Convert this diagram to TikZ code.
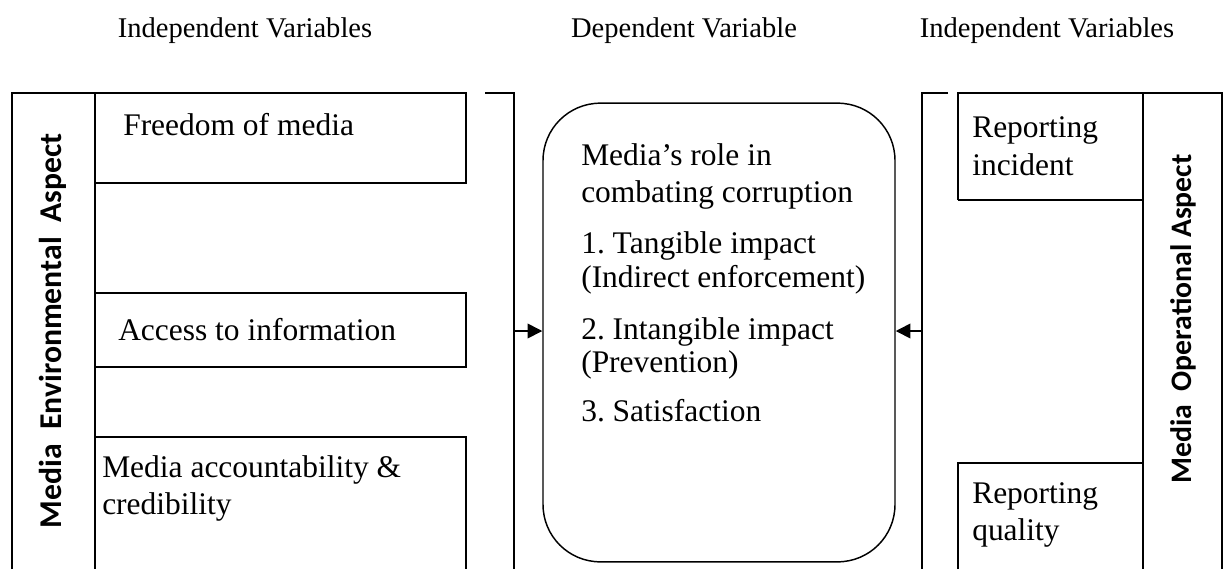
\documentclass[tikz,border=0pt]{standalone}
\usepackage{fontspec}
\setmainfont{Liberation Serif}
\newfontfamily\labfont{Carlito}
\usetikzlibrary{arrows.meta}
\frenchspacing
\begin{document}
\begin{tikzpicture}[x=0.75pt,y=-0.75pt,
  frame/.style={line width=1.4pt},
  txt/.style={anchor=base west,inner sep=0pt,font=\fontsize{23.6}{28.9}\selectfont},
  head/.style={anchor=base,inner sep=0pt,font=\fontsize{21.4}{25}\selectfont},
  sidel/.style={inner sep=0pt,rotate=90,font=\labfont\bfseries\fontsize{23.8}{28}\selectfont},
  sider/.style={inner sep=0pt,rotate=90,font=\labfont\bfseries\fontsize{22.3}{26}\selectfont},
  arr/.style={line width=1.2pt,-{Triangle[length=11pt,width=11pt]}}]
\useasboundingbox (0,0) rectangle (1224,569);
% headers
\node[head] (h1) at (245,37) {Independent Variables};
\node[head] (h2) at (684,37) {Dependent Variable};
\node[head] (h3) at (1047,37) {Independent Variables};
% left block
\draw[frame] (12,569) -- (12,93) -- (466,93) -- (466,183) -- (95,183);
\draw[frame] (95,93) -- (95,569);
\draw[frame] (95,293) rectangle (466,367);
\draw[frame] (95,437) -- (466,437) -- (466,569);
\node[sidel] (envlab) at (53,331) {Media\ \ Environmental\ \ Aspect};
\node[txt] (free) at (123,135) {Freedom of media};
\node[txt] (acc) at (118,340) {Access to information};
\node[txt] (cred1) at (102,477) {Media accountability \&};
\node[txt] (cred2) at (102,514) {credibility};
% left bracket
\draw[frame] (485,93) -- (514,93) -- (514,569);
\coordinate (lb) at (514,331);
% centre
\node[draw,line width=1.1pt,rounded corners=43pt,minimum width=264pt,minimum height=344pt,inner sep=0pt] (dv) at (719,332.5) {};
\node[txt] (d1) at (581,165) {Media’s role in};
\node[txt] (d2) at (581,202) {combating corruption};
\node[txt] (d3) at (581,253) {1. Tangible impact};
\node[txt] (d4) at (581,287) {(Indirect enforcement)};
\node[txt] (d5) at (581,339) {2. Intangible impact};
\node[txt] (d6) at (581,372) {(Prevention)};
\node[txt] (d7) at (581,421) {3. Satisfaction};
\draw[arr] (lb) -- (lb -| dv.west);
% right bracket
\draw[frame] (948,93) -- (922,93) -- (922,569);
\coordinate (rb) at (922,331);
\draw[arr] (rb) -- (rb -| dv.east);
% right block
\draw[frame] (958,200) -- (958,93) -- (1222,93) -- (1222,569);
\draw[frame] (1143,93) -- (1143,569);
\draw[frame] (958,200) -- (1143,200);
\draw[frame] (958,569) -- (958,463) -- (1143,463);
\node[sider] (oplab) at (1183,319) {Media\ \ Operational Aspect};
\node[txt] (rep1) at (972,137) {Reporting};
\node[txt] (rep2) at (972,175) {incident};
\node[txt] (q1) at (972,503) {Reporting};
\node[txt] (q2) at (972,540) {quality};
\end{tikzpicture}
\end{document}
